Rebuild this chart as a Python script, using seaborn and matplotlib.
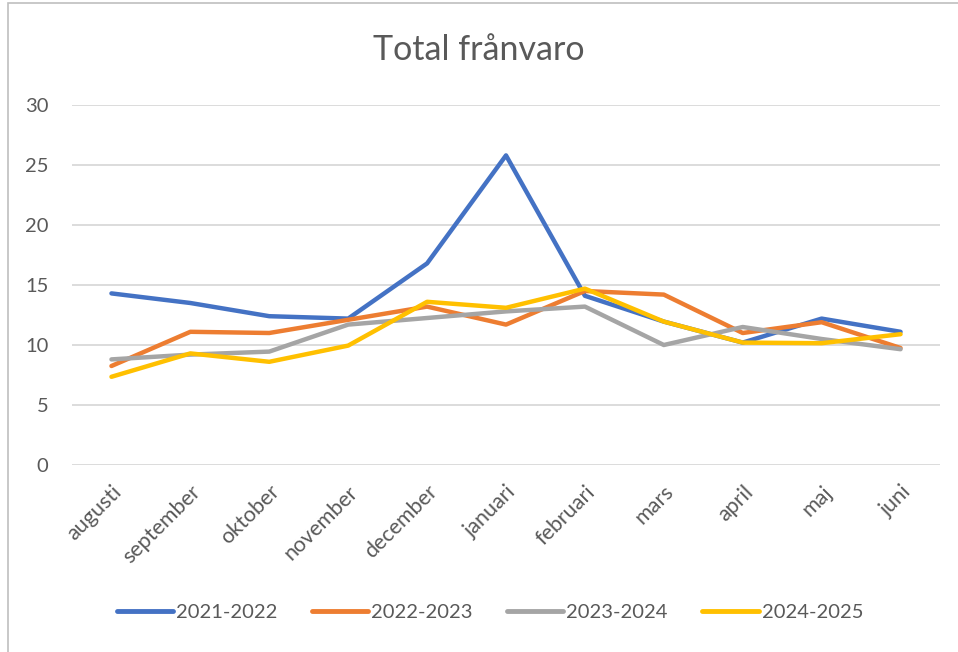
import matplotlib
matplotlib.use("Agg")
import matplotlib.pyplot as plt
import seaborn as sns
import pandas as pd
from matplotlib.patches import Rectangle

months = ["augusti", "september", "oktober", "november", "december", "januari",
          "februari", "mars", "april", "maj", "juni"]
s2122 = [14.3, 13.5, 12.4, 12.2, 16.8, 25.8, 14.1, 11.95, 10.2, 12.2, 11.1]
s2223 = [8.25, 11.1, 11.0, 12.1, 13.2, 11.7, 14.5, 14.2, 11.0, 11.9, 9.75]
s2324 = [8.8, 9.2, 9.45, 11.7, 12.25, 12.8, 13.2, 10.0, 11.5, 10.5, 9.65]
s2425 = [7.35, 9.3, 8.6, 9.95, 13.6, 13.1, 14.7, 11.95, 10.2, 10.15, 10.9]
seasons = ["2021-2022", "2022-2023", "2023-2024", "2024-2025"]
colors = ["#4472C4", "#ED7D31", "#A5A5A5", "#FFC000"]
yticks = [0, 5, 10, 15, 20, 25, 30]

rows = []
for name, vals in zip(seasons, [s2122, s2223, s2324, s2425]):
    for m, v in zip(months, vals):
        rows.append({"månad": m, "värde": v, "säsong": name})
df = pd.DataFrame(rows)

sns.set_theme(style="white")
plt.rcParams["font.family"] = ["Lato", "DejaVu Sans"]

fig = plt.figure(figsize=(9.58, 6.52), dpi=100)
ax = fig.add_axes([72/958, 1-465/652, (940-72)/958, (465-105)/652])

sns.lineplot(data=df, x="månad", y="värde", hue="säsong", palette=colors,
             sort=False, linewidth=3.2, ax=ax, legend=True)

ax.set_xlim(-0.5, len(months) - 0.5)
ax.set_ylim(0, 30)
ax.set_yticks(yticks)
ax.set_yticklabels([str(t) for t in yticks], color="#595959", fontsize=14.5)
ax.set_xticks(range(len(months)))
ax.set_xticklabels(months, rotation=45, ha="right", rotation_mode="anchor",
                   color="#595959", fontsize=15.5)
ax.tick_params(axis="both", length=0)
ax.tick_params(axis="y", pad=17)
ax.tick_params(axis="x", pad=12)
ax.grid(axis="y", color="#D9D9D9", linewidth=1.3)
ax.set_axisbelow(True)
for sp in ax.spines.values():
    sp.set_visible(False)
ax.set_xlabel("")
ax.set_ylabel("")

handles, labels = ax.get_legend_handles_labels()
ax.get_legend().remove()
for h in handles:
    h.set_linewidth(3.5)
fig.legend(handles, labels, loc="center", bbox_to_anchor=(490/958, 1-612/652),
           ncol=4, frameon=False, fontsize=14.5, handlelength=2.8,
           handletextpad=0.15, columnspacing=1.7, labelcolor="#595959")

fig.text(0.5, 1-50/652, "Total frånvaro", ha="center", va="center",
         fontsize=24.5, color="#595959")

fig.patches.append(Rectangle((8/958, -0.1), 1.2, 1.1 - 3/652, transform=fig.transFigure,
                             fill=False, edgecolor="#BFBFBF", linewidth=1.2))

fig.savefig("out.png", dpi=100)
